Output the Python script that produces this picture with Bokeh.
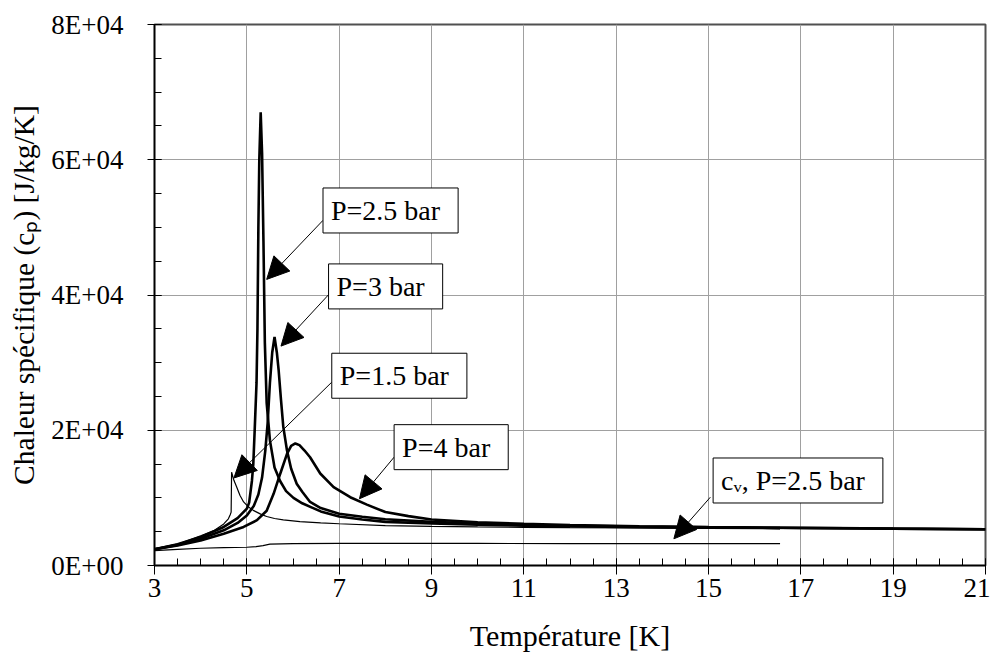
import numpy as np
from bokeh.plotting import figure
from bokeh.models import (Range1d, FixedTicker, Label, Arrow, NormalHead)
from bokeh.embed import file_html
from bokeh.resources import INLINE

# ---------------- data ----------------
x_ticks = [3, 5, 7, 9, 11, 13, 15, 17, 19, 21]
x_tick_labels = ["3", "5", "7", "9", "11", "13", "15", "17", "19", "21"]
y_ticks = [0, 20000, 40000, 60000, 80000]
y_tick_labels = ["0E+00", "2E+04", "4E+04", "6E+04", "8E+04"]

T_cv = [3.0, 3.5, 4.0, 4.5, 5.0, 5.2, 5.35, 5.5, 6.0, 7.0, 8.0, 10.0, 12.0, 14.0, 16.55]
cv_25 = [2200, 2380, 2550, 2630, 2700, 2780, 2950, 3150, 3230, 3270, 3280, 3260, 3240, 3230, 3220]

T_15 = [3.0, 3.5, 4.0, 4.3, 4.5, 4.6, 4.64, 4.66, 4.67, 4.72, 4.78, 4.85, 4.93, 5.03, 5.14,
        5.3, 5.43, 5.6, 5.79, 6.15, 6.6, 7.0, 8.0, 9.0, 10.0, 11.0, 12.0, 13.5, 15.0, 16.55]
cp_15 = [2400, 3150, 4400, 5200, 6150, 6900, 7500, 7900, 13800, 12600, 11600, 10400, 9400, 8700, 8150,
         7600, 7250, 6950, 6760, 6500, 6300, 6170, 5900, 5780, 5700, 5650, 5600, 5550, 5500, 5460]

T_25 = [3.0, 3.5, 4.0, 4.5, 4.8, 5.0, 5.05, 5.11, 5.14, 5.17, 5.21, 5.23, 5.25, 5.27, 5.30, 5.33,
        5.36, 5.39, 5.43, 5.5, 5.6, 5.72, 5.85, 6.01, 6.2, 6.4, 6.6, 7.0, 7.5, 8.0, 9.0, 10.0,
        11.0, 12.0, 13.5, 15.0, 16.55]
cp_25 = [2400, 3150, 4200, 5700, 7000, 8400, 9300, 12500, 15000, 20000, 27000, 35000, 50000, 60000, 67000, 61000,
         48000, 33000, 24000, 18500, 14500, 12500, 11000, 10000, 9200, 8600, 8000, 7250, 6800, 6450, 6200, 6050,
         5900, 5800, 5680, 5600, 5530]

T_3 = [3.0, 3.5, 4.0, 4.5, 4.8, 5.0, 5.15, 5.25, 5.33, 5.4, 5.45, 5.5, 5.55, 5.6, 5.65, 5.69, 5.74,
       5.79, 5.87, 5.96, 6.08, 6.2, 6.37, 6.6, 7.0, 7.5, 8.0, 9.0, 10.0, 11.0, 12.0, 13.5, 15.0,
       17.0, 19.0, 21.0]
cp_3 = [2400, 3050, 3950, 5200, 6300, 7400, 8800, 10500, 13000, 17000, 21000, 27000, 31500, 33800, 31500, 28800, 24500,
        20500, 17000, 14300, 12100, 10900, 9400, 8500, 7650, 7200, 6850, 6450, 6200, 6000, 5880, 5750, 5650,
        5550, 5450, 5370]

T_4 = [3.0, 3.5, 4.0, 4.5, 4.93, 5.22, 5.43, 5.58, 5.72, 5.87, 5.96, 6.05, 6.14, 6.25, 6.37, 6.59,
       6.88, 7.24, 7.6, 8.0, 8.5, 9.0, 10.0, 11.0, 12.0, 13.5, 15.0, 17.0, 19.0, 21.0]
cp_4 = [2400, 2950, 3700, 4700, 5700, 6700, 8100, 10600, 13500, 16500, 17700, 18050, 17800, 17000, 16000, 13600,
        11600, 10100, 9000, 7900, 7300, 6800, 6400, 6150, 5980, 5800, 5680, 5560, 5450, 5340]

FONT = "Liberation Serif"

p = figure(width=990, height=657, output_backend="svg", toolbar_location=None,
           x_range=Range1d(3, 21), y_range=Range1d(0, 80000),
           min_border_left=154, min_border_right=5, min_border_top=24, min_border_bottom=92)
p.background_fill_color = "white"
p.border_fill_color = "white"
p.outline_line_color = "#505050"
p.outline_line_width = 2

# axes
p.xaxis.ticker = FixedTicker(ticks=x_ticks, minor_ticks=list(np.arange(3, 21.01, 0.5)))
p.yaxis.ticker = FixedTicker(ticks=y_ticks, minor_ticks=list(np.arange(0, 80001, 5000)))
p.xaxis.major_label_overrides = {t: l for t, l in zip(x_ticks, x_tick_labels)}
p.yaxis.major_label_overrides = {t: l for t, l in zip(y_ticks, y_tick_labels)}
p.xgrid.ticker = FixedTicker(ticks=x_ticks)
p.ygrid.ticker = FixedTicker(ticks=y_ticks)
p.grid.grid_line_color = "#a0a0a0"
p.grid.grid_line_width = 1

for ax in (p.xaxis[0], p.yaxis[0]):
    ax.axis_line_color = "black"
    ax.axis_line_width = 1.5
    ax.major_tick_line_color = "black"
    ax.minor_tick_line_color = "black"
    ax.major_tick_in = 7
    ax.minor_tick_in = 7
    ax.minor_tick_out = 0
    ax.major_label_text_font = FONT
    ax.major_label_text_font_size = "27px"
    ax.major_label_text_color = "black"
    ax.axis_label_text_font = FONT
    ax.axis_label_text_font_style = "normal"
    ax.axis_label_text_color = "black"

p.xaxis.axis_label_text_font_size = "30px"
p.yaxis.axis_label_text_font_size = "29.5px"
p.xaxis.major_tick_out = 9
p.yaxis.major_tick_out = 7
p.xaxis.major_label_standoff = 4
p.yaxis.major_label_standoff = 24
p.xaxis.axis_label = "Température [K]"
p.yaxis.axis_label = "Chaleur spécifique (cₚ) [J/kg/K]"
p.xaxis.axis_label_standoff = 19
p.yaxis.axis_label_standoff = 8

# curves
p.line(T_cv, cv_25, line_color="black", line_width=1.2)
p.line(T_15, cp_15, line_color="black", line_width=1.2)
p.line(T_4, cp_4, line_color="black", line_width=2.6)
p.line(T_3, cp_3, line_color="black", line_width=2.6)
p.line(T_25, cp_25, line_color="black", line_width=2.6)

# annotations: (text, box-left T, box-center cp, arrow start, arrow end)
notes = [
    ("P=2.5 bar", 6.65, 52500, (6.65, 51040), (5.43, 42310)),
    ("P=3 bar", 6.77, 41270, (6.77, 40040), (5.74, 32440)),
    ("P=1.5 bar", 6.84, 28060, (6.84, 27110), (4.72, 12940)),
    ("P=4 bar", 8.19, 17500, (8.19, 16020), (7.44, 9870)),
    ("cᵥ, P=2.5 bar", 15.10, 12570, (15.04, 10100), (14.25, 3950)),
]
for txt, bx, by, (sx, sy), (ex, ey) in notes:
    p.add_layout(Arrow(x_start=sx, y_start=sy, x_end=ex, y_end=ey, line_color="black", line_width=1,
                       end=NormalHead(size=22, fill_color="black", line_color="black")))
    p.add_layout(Label(x=bx, y=by, text=txt, text_align="left", text_baseline="middle",
                       text_font=FONT, text_font_size="28px", text_color="black",
                       background_fill_color="white", border_line_color="black", border_line_width=1,
                       padding=dict(left=8, right=18, top=7, bottom=7)))

open("out.html", "w").write(file_html(p, INLINE))
